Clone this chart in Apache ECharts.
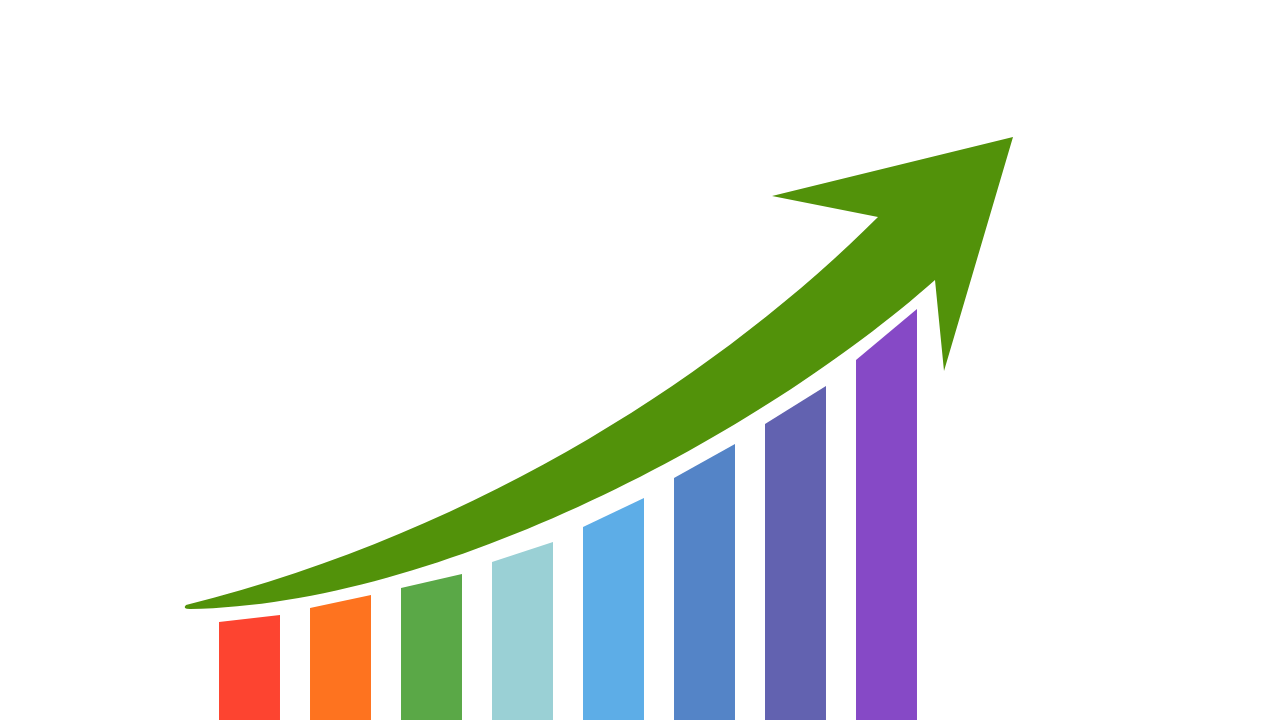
<!DOCTYPE html>
<html lang="en">

<head>
    <meta charset="UTF-8">
    <title>Growth Chart</title>
    <script src="https://cdn.jsdelivr.net/npm/echarts@6.0.0/dist/echarts.min.js"></script>
    <style>
        html, body { margin: 0; padding: 0; background: #ffffff; }
    </style>
</head>

<body>
    <div id="main" style="width: 1280px; height: 720px;"></div>

    <script type="text/javascript">
        // Bars: height of the top-left and top-right corners (slanted tops)
        const categories = ['1', '2', '3', '4', '5', '6', '7', '8'];
        const topLeft = [98, 112, 132, 158, 193, 242, 296, 360];
        const topRight = [105, 125, 146, 178, 222, 276, 334, 411];
        const barColors = ['#fd4430', '#fe731f', '#5aa847', '#9ad0d5',
                           '#5dade7', '#5484c7', '#6262b0', '#8649c6'];

        // Trend arrow outline, [x, height] pairs
        // upper / lower edges are cubic curves: start, control, control, end
        const arrowUpper = [[186, 115], [486, 190], [728, 353], [878, 503]];
        const arrowHead = [[772, 524], [1013, 583], [944, 349], [935, 440]];
        const arrowLower = [[935, 440], [760, 285], [440, 115], [190, 111]];
        const arrowTailCtrl = [182, 111];
        const arrowColor = '#52920a';

        let myChart = echarts.init(document.getElementById('main'));

        let options = {
            backgroundColor: '#ffffff',
            animation: false,
            grid: [
                { left: 204, width: 728, top: 0, bottom: 0 },  // bars
                { left: 0, right: 0, top: 0, bottom: 0 }       // arrow
            ],
            xAxis: [
                { type: 'category', gridIndex: 0, data: categories, show: false },
                { type: 'value', gridIndex: 1, min: 0, max: 1280, show: false }
            ],
            yAxis: [
                { type: 'value', gridIndex: 0, min: 0, max: 720, show: false },
                { type: 'value', gridIndex: 1, min: 0, max: 720, show: false }
            ],
            series: [
                {
                    type: 'custom',
                    xAxisIndex: 0,
                    yAxisIndex: 0,
                    data: categories.map((c, i) => [i, topLeft[i], topRight[i]]),
                    renderItem: function (params, api) {
                        let i = api.value(0);
                        let base = api.coord([i, 0]);
                        let half = api.size([1, 0])[0] * 0.67 / 2;
                        let yl = api.coord([i, api.value(1)])[1];
                        let yr = api.coord([i, api.value(2)])[1];
                        return {
                            type: 'polygon',
                            shape: {
                                points: [
                                    [base[0] - half, base[1]],
                                    [base[0] - half, yl],
                                    [base[0] + half, yr],
                                    [base[0] + half, base[1]]
                                ]
                            },
                            style: { fill: barColors[i] }
                        };
                    }
                },
                {
                    type: 'custom',
                    xAxisIndex: 1,
                    yAxisIndex: 1,
                    data: [[0, 0]],
                    renderItem: function (params, api) {
                        let pt = p => api.coord(p).map(v => v.toFixed(1)).join(' ');
                        let u = arrowUpper.map(pt);
                        let h = arrowHead.map(pt);
                        let l = arrowLower.map(pt);
                        let d = 'M ' + u[0] + ' C ' + u[1] + ' ' + u[2] + ' ' + u[3] +
                            ' L ' + h.join(' L ') +
                            ' C ' + l[1] + ' ' + l[2] + ' ' + l[3] +
                            ' Q ' + pt(arrowTailCtrl) + ' ' + u[0] + ' Z';
                        return {
                            type: 'path',
                            shape: { pathData: d },
                            style: { fill: arrowColor }
                        };
                    }
                }
            ]
        };

        myChart.setOption(options);

        window.addEventListener('resize', () => {
            myChart.resize();
        });
    </script>
</body>

</html>
